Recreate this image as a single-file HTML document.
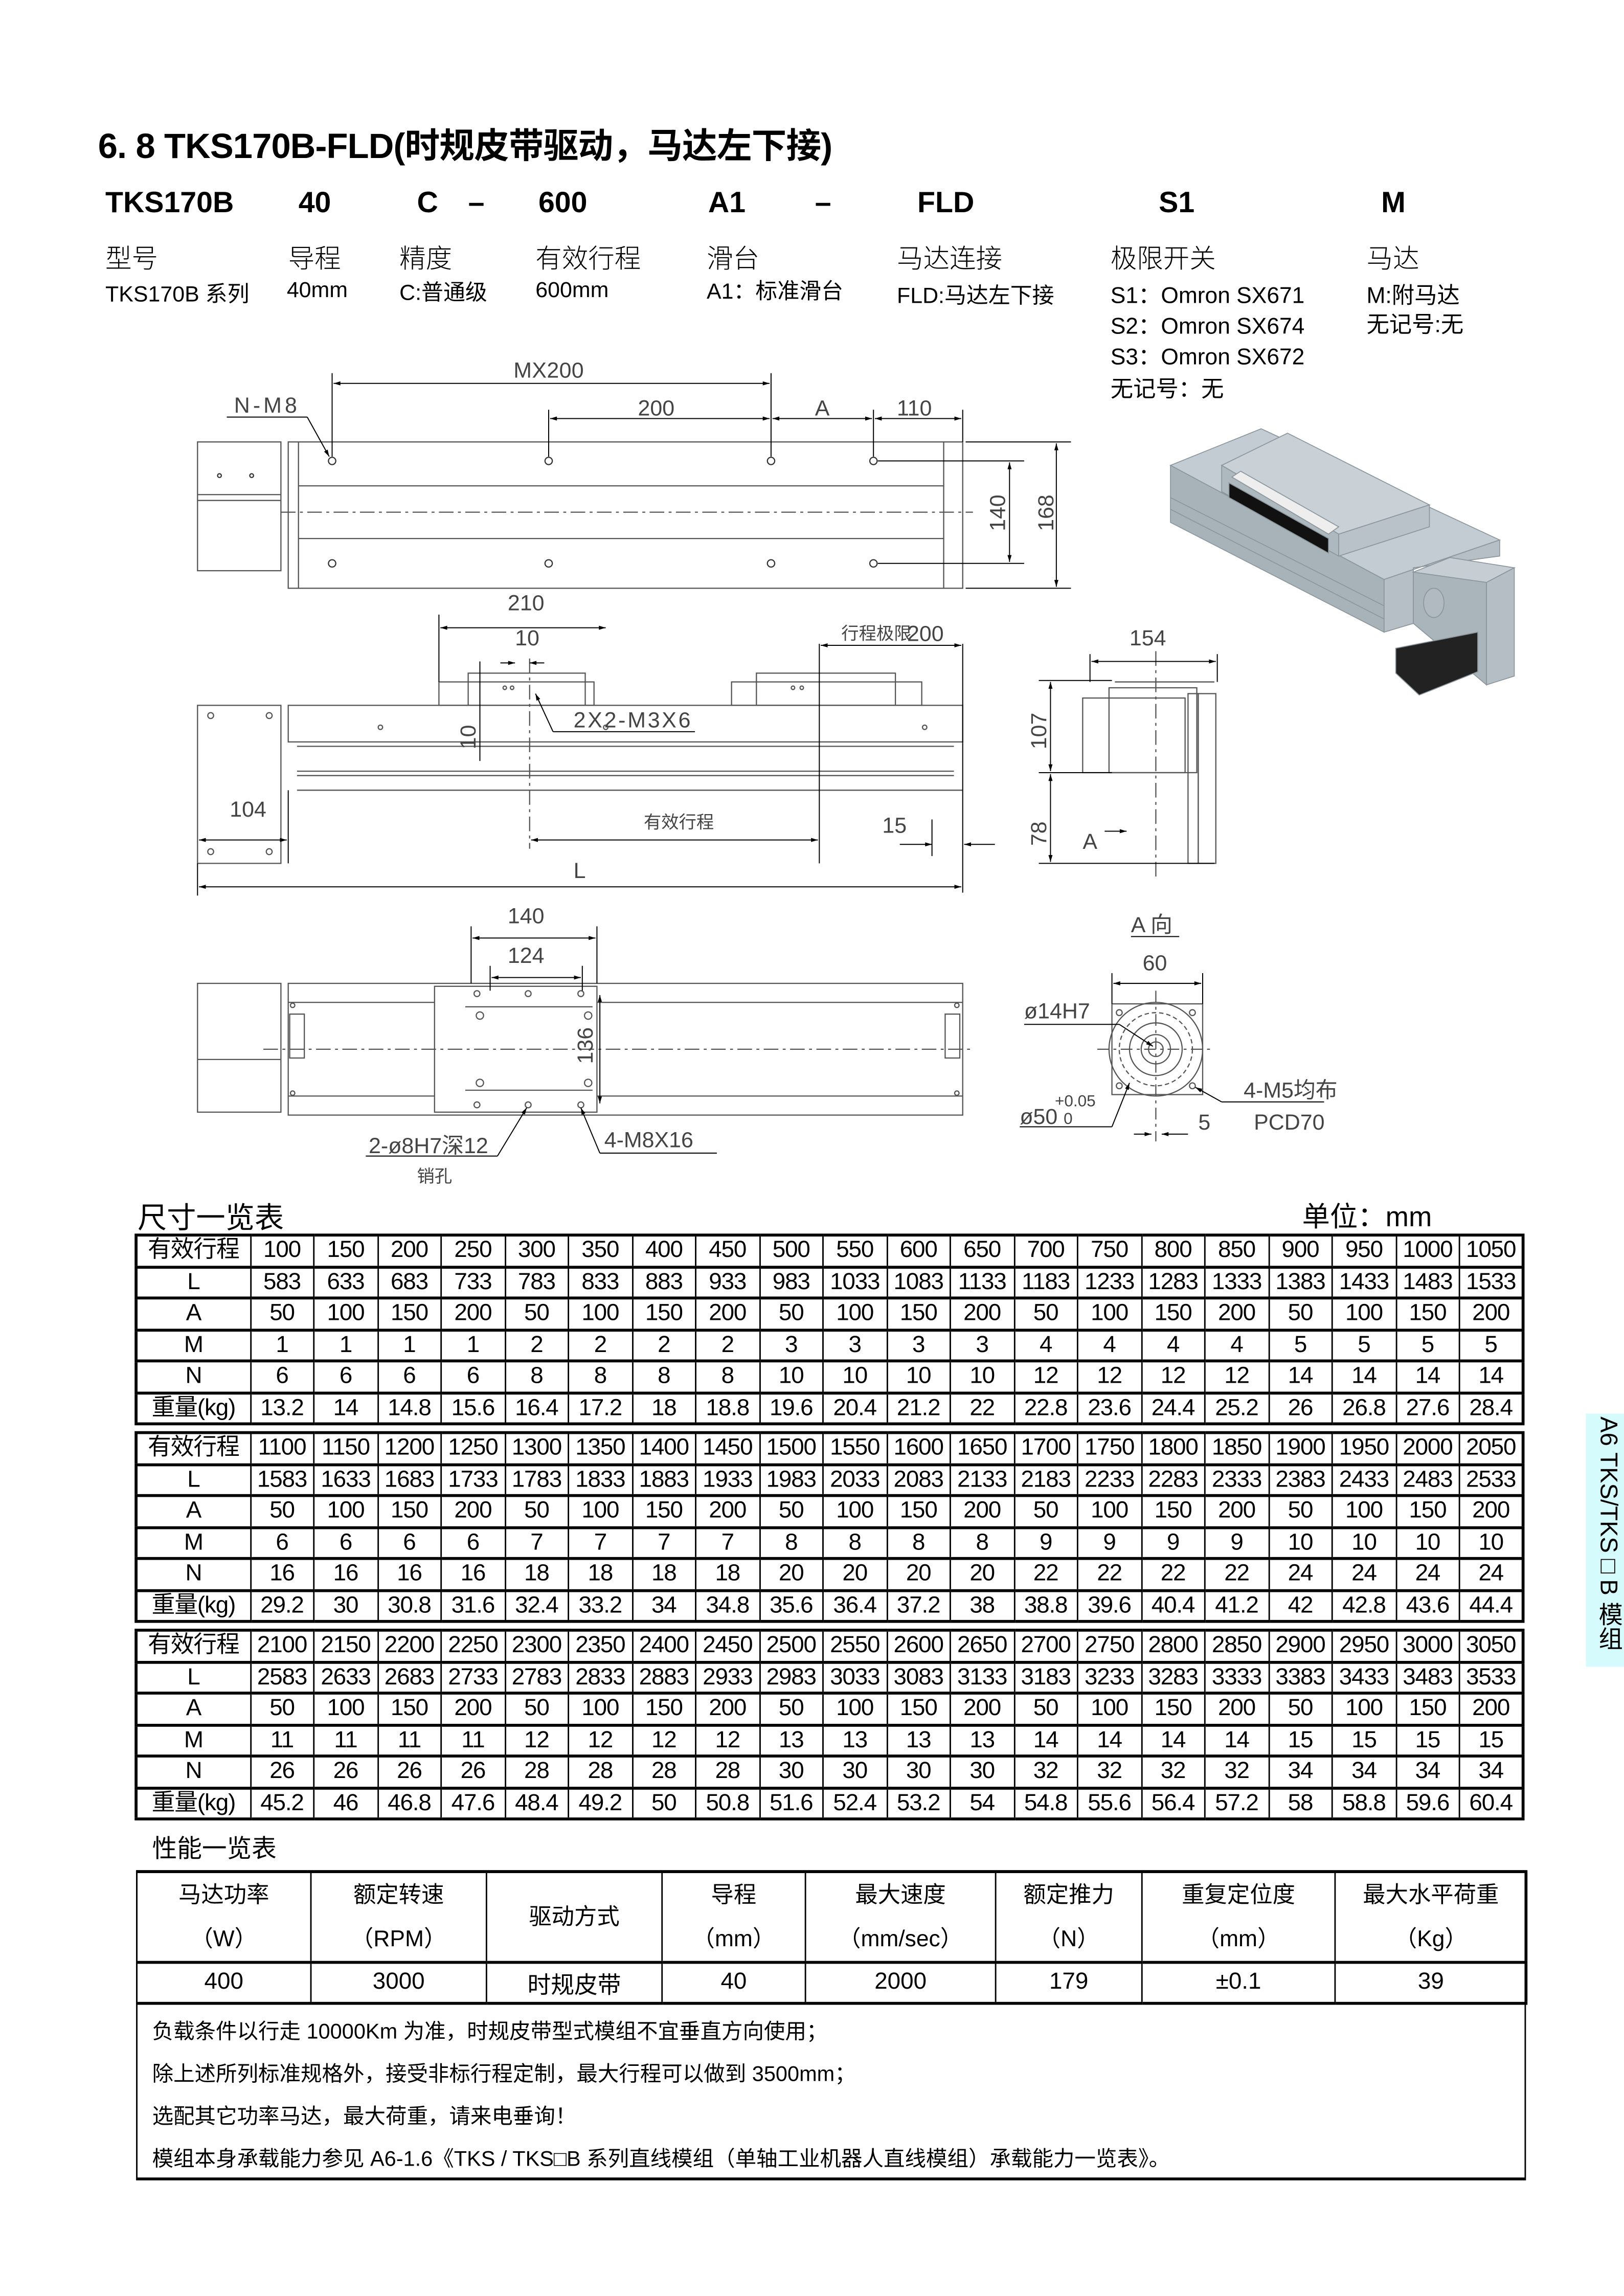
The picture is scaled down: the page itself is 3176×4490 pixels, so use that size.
<!DOCTYPE html>
<html><head><meta charset="utf-8">
<style>
html,body{margin:0;padding:0;background:#fff;}
body{width:3176px;height:4490px;overflow:hidden;position:relative;}
#pg{position:absolute;left:0;top:0;width:1110px;height:1569px;transform:scale(2.8613,2.8617);transform-origin:0 0;font-family:"Liberation Sans","Noto Sans CJK SC",sans-serif;color:#000;}
.a{position:absolute;white-space:nowrap;}
.cj{font-family:"Liberation Sans","Noto Sans CJK SC",sans-serif;}
table{position:absolute;border-collapse:collapse;table-layout:fixed;}
.dt td{border-left:1px solid #000;border-right:1px solid #000;border-top:2px solid #000;border-bottom:2px solid #000;text-align:center;font-size:16px;height:19.5px;padding:0;line-height:19px;overflow:hidden;white-space:nowrap;letter-spacing:-0.4px;}
.dt{border:2px solid #000;}
.pt td{border:1px solid #000;text-align:center;font-size:16px;padding:0;}
.pt tr.h td{border-bottom:2px solid #000;line-height:15px;font-size:15.5px;}
</style></head><body><div id="pg">

<div class="a" style="left:67px;top:80px;font-size:24px;font-weight:bold;letter-spacing:-0.3px;">6. 8 TKS170B-FLD(时规皮带驱动，马达左下接)</div>

<div class="a" style="left:72px;top:128px;font-size:20px;font-weight:bold;">TKS170B</div>
<div class="a" style="left:204px;top:128px;font-size:20px;font-weight:bold;">40</div>
<div class="a" style="left:285px;top:128px;font-size:20px;font-weight:bold;">C</div>
<div class="a" style="left:320px;top:128px;font-size:20px;font-weight:bold;">–</div>
<div class="a" style="left:368px;top:128px;font-size:20px;font-weight:bold;">600</div>
<div class="a" style="left:484px;top:128px;font-size:20px;font-weight:bold;">A1</div>
<div class="a" style="left:557px;top:128px;font-size:20px;font-weight:bold;">–</div>
<div class="a" style="left:627px;top:128px;font-size:20px;font-weight:bold;">FLD</div>
<div class="a" style="left:792px;top:128px;font-size:20px;font-weight:bold;">S1</div>
<div class="a" style="left:944px;top:128px;font-size:20px;font-weight:bold;">M</div>

<div class="a cj" style="left:72px;top:163px;font-size:18px;font-weight:300;">型号</div>
<div class="a cj" style="left:197px;top:163px;font-size:18px;font-weight:300;">导程</div>
<div class="a cj" style="left:273px;top:163px;font-size:18px;font-weight:300;">精度</div>
<div class="a cj" style="left:366px;top:163px;font-size:18px;font-weight:300;">有效行程</div>
<div class="a cj" style="left:483px;top:163px;font-size:18px;font-weight:300;">滑台</div>
<div class="a cj" style="left:613px;top:163px;font-size:18px;font-weight:300;">马达连接</div>
<div class="a cj" style="left:759px;top:163px;font-size:18px;font-weight:300;">极限开关</div>
<div class="a cj" style="left:934px;top:163px;font-size:18px;font-weight:300;">马达</div>

<div class="a cj" style="left:72px;top:190px;font-size:15px;">TKS170B 系列</div>
<div class="a cj" style="left:196px;top:190px;font-size:15px;">40mm</div>
<div class="a cj" style="left:273px;top:189px;font-size:15px;">C:普通级</div>
<div class="a cj" style="left:366px;top:190px;font-size:15px;">600mm</div>
<div class="a cj" style="left:483px;top:188px;font-size:15px;">A1：标准滑台</div>
<div class="a cj" style="left:613px;top:191px;font-size:15px;">FLD:马达左下接</div>
<div class="a cj" style="left:759px;top:190px;font-size:15.5px;">S1：Omron SX671</div>
<div class="a cj" style="left:759px;top:211px;font-size:15.5px;">S2：Omron SX674</div>
<div class="a cj" style="left:759px;top:232px;font-size:15.5px;">S3：Omron SX672</div>
<div class="a cj" style="left:759px;top:254px;font-size:15.5px;">无记号：无</div>
<div class="a cj" style="left:934px;top:190px;font-size:15.5px;">M:附马达</div>
<div class="a cj" style="left:934px;top:210px;font-size:15.5px;">无记号:无</div>

<svg class="a" style="left:0;top:0" width="1110" height="820" viewBox="0 0 1110 820">
<defs><marker id="ar" viewBox="0 0 10 6" refX="10" refY="3" markerWidth="8" markerHeight="4" orient="auto-start-reverse"><path d="M0,0L10,3L0,6z" fill="#000"/></marker></defs>
<g fill="none" stroke="#555" stroke-width="0.8">
<rect x="135" y="302" width="57" height="88"/>
<line x1="135" y1="342" x2="192" y2="342"/><line x1="135" y1="338" x2="192" y2="338"/>
<rect x="197" y="302" width="461" height="100"/>
<line x1="204" y1="302" x2="204" y2="402"/><line x1="645" y1="302" x2="645" y2="402"/>
<line x1="204" y1="332" x2="645" y2="332"/><line x1="204" y1="368" x2="645" y2="368"/>
<line x1="192" y1="350" x2="665" y2="350" stroke-dasharray="10 3 2 3"/>
</g>
<g fill="none" stroke="#333" stroke-width="0.8">
<circle cx="227" cy="315" r="2.5"/><circle cx="375" cy="315" r="2.5"/><circle cx="527" cy="315" r="2.5"/><circle cx="597" cy="315" r="2.5"/>
<circle cx="227" cy="385" r="2.5"/><circle cx="375" cy="385" r="2.5"/><circle cx="527" cy="385" r="2.5"/><circle cx="597" cy="385" r="2.5"/>
<circle cx="150" cy="325" r="1.3"/><circle cx="172" cy="325" r="1.3"/>
</g>
<g stroke="#000" stroke-width="0.7" fill="none">
<line x1="227" y1="255" x2="227" y2="312"/><line x1="527" y1="255" x2="527" y2="312"/><line x1="375" y1="280" x2="375" y2="312"/><line x1="597" y1="280" x2="597" y2="312"/><line x1="658" y1="280" x2="658" y2="302"/>
<line x1="228" y1="262" x2="526" y2="262" marker-start="url(#ar)" marker-end="url(#ar)"/>
<line x1="376" y1="286" x2="526" y2="286" marker-start="url(#ar)" marker-end="url(#ar)"/>
<line x1="528" y1="286" x2="596" y2="286" marker-start="url(#ar)" marker-end="url(#ar)"/>
<line x1="598" y1="286" x2="657" y2="286" marker-start="url(#ar)" marker-end="url(#ar)"/>
<line x1="155" y1="285" x2="210" y2="285"/><line x1="210" y1="285" x2="225" y2="312" marker-end="url(#ar)"/>
<line x1="600" y1="315" x2="700" y2="315"/><line x1="600" y1="385" x2="700" y2="385"/>
<line x1="660" y1="302" x2="732" y2="302"/><line x1="660" y1="402" x2="732" y2="402"/>
<line x1="690" y1="316" x2="690" y2="384" marker-start="url(#ar)" marker-end="url(#ar)"/>
<line x1="722" y1="303" x2="722" y2="401" marker-start="url(#ar)" marker-end="url(#ar)"/>
</g>
<g font-family="Liberation Sans" font-size="15" fill="#444" font-weight="300">
<text x="351" y="258" textLength="48">MX200</text>
<text x="436" y="284">200</text><text x="557" y="284">A</text><text x="613" y="284">110</text>
<text x="160" y="282" textLength="43">N-M8</text>
<text transform="translate(687,363) rotate(-90)">140</text>
<text transform="translate(720,363) rotate(-90)">168</text>
</g>

<g fill="none" stroke="#555" stroke-width="0.8">
<rect x="135" y="482" width="57" height="108"/>
<rect x="197" y="482" width="461" height="25"/>
<line x1="203" y1="510" x2="652" y2="510"/>
<line x1="203" y1="527" x2="652" y2="527"/><line x1="203" y1="530" x2="652" y2="530"/>
<line x1="203" y1="540" x2="658" y2="540"/>
<rect x="300" y="466" width="106" height="16"/><rect x="320" y="460" width="80" height="22"/>
<rect x="500" y="466" width="130" height="16"/><rect x="517" y="460" width="95" height="22"/>
<circle cx="144" cy="489" r="2"/><circle cx="184" cy="489" r="2"/><circle cx="144" cy="582" r="2"/><circle cx="184" cy="582" r="2"/>
<circle cx="260" cy="497" r="1.5"/><circle cx="414" cy="497" r="1.5"/><circle cx="632" cy="497" r="1.5"/>
<circle cx="345" cy="470" r="1.2"/><circle cx="350" cy="470" r="1.2"/><circle cx="542" cy="470" r="1.2"/><circle cx="548" cy="470" r="1.2"/>
<line x1="362" y1="450" x2="362" y2="580" stroke-dasharray="10 3 2 3"/>
</g>
<g stroke="#000" stroke-width="0.7" fill="none">
<line x1="300" y1="420" x2="300" y2="466"/><line x1="301" y1="429" x2="414" y2="429" marker-start="url(#ar)" marker-end="url(#ar)"/>
<line x1="342" y1="453" x2="352" y2="453" marker-end="url(#ar)"/><line x1="372" y1="453" x2="362" y2="453" marker-end="url(#ar)"/>
<line x1="328" y1="452" x2="328" y2="520"/>
<line x1="366" y1="474" x2="378" y2="500" marker-start="url(#ar)"/><line x1="378" y1="500" x2="475" y2="500"/>
<line x1="560" y1="440" x2="560" y2="590"/><line x1="561" y1="441" x2="657" y2="441" marker-start="url(#ar)" marker-end="url(#ar)"/><line x1="658" y1="440" x2="658" y2="610"/>
<line x1="136" y1="574" x2="196" y2="574" marker-start="url(#ar)" marker-end="url(#ar)"/><line x1="197" y1="540" x2="197" y2="590"/>
<line x1="363" y1="574" x2="559" y2="574" marker-start="url(#ar)" marker-end="url(#ar)"/>
<line x1="615" y1="577" x2="637" y2="577" marker-end="url(#ar)"/><line x1="680" y1="577" x2="659" y2="577" marker-end="url(#ar)"/><line x1="637" y1="560" x2="637" y2="585"/>
<line x1="135" y1="590" x2="135" y2="612"/>
<line x1="136" y1="606" x2="657" y2="606" marker-start="url(#ar)" marker-end="url(#ar)"/>
</g>
<g font-family="Liberation Sans" font-size="15" fill="#444">
<text x="347" y="417">210</text><text x="352" y="441">10</text>
<text x="575" y="437" font-size="12" class="cj">行程极限</text><text x="620" y="438">200</text>
<text x="392" y="497" textLength="80">2X2-M3X6</text>
<text transform="translate(325,512) rotate(-90)">10</text>
<text x="157" y="558">104</text><text x="440" y="566" font-size="12">有效行程</text>
<text x="603" y="569">15</text><text x="392" y="600">L</text>
</g>

<g fill="none" stroke="#555" stroke-width="0.8">
<rect x="740" y="477" width="70" height="51"/><rect x="758" y="470" width="60" height="58"/>
<rect x="819" y="474" width="12" height="116"/><rect x="812" y="474" width="7" height="116"/>
<line x1="790" y1="445" x2="790" y2="600" stroke-dasharray="10 3 2 3"/>
<line x1="762" y1="466" x2="830" y2="466"/>
</g>
<g stroke="#000" stroke-width="0.7" fill="none">
<line x1="745" y1="447" x2="745" y2="466"/><line x1="832" y1="447" x2="832" y2="466"/>
<line x1="746" y1="452" x2="831" y2="452" marker-start="url(#ar)" marker-end="url(#ar)"/>
<line x1="710" y1="465" x2="760" y2="465"/><line x1="710" y1="528" x2="760" y2="528"/><line x1="710" y1="590" x2="830" y2="590"/>
<line x1="718" y1="466" x2="718" y2="527" marker-start="url(#ar)" marker-end="url(#ar)"/>
<line x1="718" y1="529" x2="718" y2="589" marker-start="url(#ar)" marker-end="url(#ar)"/>
<line x1="755" y1="568" x2="770" y2="568" marker-end="url(#ar)"/>
</g>
<g font-family="Liberation Sans" font-size="15" fill="#444">
<text x="772" y="441">154</text>
<text transform="translate(715,512) rotate(-90)">107</text>
<text transform="translate(715,578) rotate(-90)">78</text>
<text x="740" y="580">A</text>
</g>

<g fill="none" stroke="#555" stroke-width="0.8">
<rect x="135" y="672" width="57" height="88"/><line x1="135" y1="724" x2="192" y2="724"/>
<rect x="197" y="672" width="461" height="90"/>
<rect x="297" y="674" width="111" height="86"/>
<line x1="197" y1="685" x2="297" y2="685"/><line x1="408" y1="685" x2="658" y2="685"/>
<line x1="197" y1="749" x2="297" y2="749"/><line x1="408" y1="749" x2="658" y2="749"/>
<rect x="198" y="693" width="10" height="30"/><rect x="646" y="693" width="10" height="30"/>
<line x1="318" y1="688" x2="405" y2="688"/><line x1="318" y1="745" x2="405" y2="745"/>
<line x1="180" y1="717" x2="665" y2="717" stroke-dasharray="10 3 2 3"/>
<circle cx="326" cy="679" r="2"/><circle cx="361" cy="679" r="2"/><circle cx="397" cy="679" r="2"/>
<circle cx="326" cy="755" r="2"/><circle cx="361" cy="755" r="2"/><circle cx="397" cy="755" r="2"/>
<circle cx="328" cy="694" r="2.5"/><circle cx="402" cy="694" r="2.5"/><circle cx="328" cy="740" r="2.5"/><circle cx="402" cy="740" r="2.5"/>
<circle cx="200" cy="687" r="1.5"/><circle cx="654" cy="687" r="1.5"/><circle cx="200" cy="747" r="1.5"/><circle cx="654" cy="747" r="1.5"/>
</g>
<g stroke="#000" stroke-width="0.7" fill="none">
<line x1="322" y1="633" x2="322" y2="672"/><line x1="408" y1="633" x2="408" y2="672"/>
<line x1="323" y1="641" x2="407" y2="641" marker-start="url(#ar)" marker-end="url(#ar)"/>
<line x1="335" y1="660" x2="335" y2="677"/><line x1="398" y1="660" x2="398" y2="677"/>
<line x1="336" y1="668" x2="397" y2="668" marker-start="url(#ar)" marker-end="url(#ar)"/>
<line x1="410" y1="680" x2="410" y2="754" marker-start="url(#ar)" marker-end="url(#ar)"/>
<line x1="250" y1="790" x2="340" y2="790"/><line x1="340" y1="790" x2="360" y2="757" marker-end="url(#ar)"/>
<line x1="490" y1="788" x2="410" y2="788"/><line x1="410" y1="788" x2="397" y2="757" marker-end="url(#ar)"/>
</g>
<g font-family="Liberation Sans" font-size="15" fill="#444">
<text x="347" y="631">140</text><text x="347" y="658">124</text>
<text transform="translate(405,727) rotate(-90)">136</text>
<text x="252" y="788" class="cj">2-ø8H7深12</text><text x="285" y="808" font-size="12" class="cj">销孔</text>
<text x="413" y="784">4-M8X16</text>
</g>

<g fill="none" stroke="#555" stroke-width="0.8">
<rect x="760" y="686" width="62" height="62"/>
<circle cx="790" cy="717" r="32"/><circle cx="790" cy="717" r="25" stroke-dasharray="3 2"/><circle cx="790" cy="717" r="18"/><circle cx="790" cy="717" r="10"/><circle cx="790" cy="717" r="5"/>
<circle cx="765" cy="692" r="2"/><circle cx="815" cy="692" r="2"/><circle cx="765" cy="742" r="2"/><circle cx="815" cy="742" r="2"/>
<line x1="750" y1="717" x2="830" y2="717" stroke-dasharray="8 3 2 3"/><line x1="790" y1="677" x2="790" y2="780" stroke-dasharray="8 3 2 3"/>
</g>
<g stroke="#000" stroke-width="0.7" fill="none">
<line x1="773" y1="640" x2="806" y2="640"/>
<line x1="760" y1="665" x2="760" y2="686"/><line x1="822" y1="665" x2="822" y2="686"/>
<line x1="761" y1="672" x2="821" y2="672" marker-start="url(#ar)" marker-end="url(#ar)"/>
<line x1="700" y1="700" x2="765" y2="700"/><line x1="765" y1="700" x2="788" y2="715" marker-end="url(#ar)"/>
<line x1="697" y1="770" x2="760" y2="770"/><line x1="760" y1="770" x2="772" y2="740" marker-end="url(#ar)"/>
<line x1="905" y1="753" x2="835" y2="753"/><line x1="835" y1="753" x2="817" y2="743" marker-end="url(#ar)"/>
<line x1="775" y1="775" x2="787" y2="775" marker-end="url(#ar)"/><line x1="812" y1="775" x2="794" y2="775" marker-end="url(#ar)"/>
</g>
<g font-family="Liberation Sans" font-size="15" fill="#444">
<text x="773" y="637" class="cj">A 向</text><text x="781" y="663">60</text>
<text x="700" y="696">ø14H7</text>
<text x="697" y="768">ø50</text><text x="721" y="756" font-size="11">+0.05</text><text x="727" y="768" font-size="11">0</text>
<text x="850" y="750" class="cj">4-M5均布</text><text x="857" y="772">PCD70</text>
<text x="819" y="772">5</text>
</g>

<g stroke="#8a959c" stroke-width="0.6">
<polygon points="800,318 862,293 1025,369 946,396" fill="#c3ccd2"/>
<polygon points="800,318 946,396 946,432 800,357" fill="#a8b2b9"/>
<polygon points="946,396 1025,369 1025,380 966,388 966,426 946,432" fill="#b6bfc6"/>
<polygon points="835,318 880,296 977,345 915,365" fill="#c9d1d7"/>
<polygon points="835,318 915,365 915,380 835,336" fill="#aeb8bf"/>
<polygon points="915,365 977,345 977,360 915,380" fill="#b9c2c8"/>
<polygon points="840,330 908,368 908,378 840,340" fill="#111"/>
<polygon points="848,322 915,360 908,365 842,326" fill="#eee"/>
<polygon points="966,391 991,381 1035,388 1016,398" fill="#c6ced4"/>
<polygon points="966,391 1016,398 1016,468 966,426" fill="#aab4bb"/>
<polygon points="1016,398 1035,388 1035,462 1016,468" fill="#b5bec5"/>
<polygon points="954,443 1010,432 1010,459 970,475 954,460" fill="#222"/>
<line x1="800" y1="340" x2="946" y2="414"/><line x1="800" y1="348" x2="946" y2="423"/>
<ellipse cx="980" cy="412" rx="7" ry="10" fill="#b0bac0"/>
</g>
</svg>

<div class="a cj" style="left:94px;top:816px;font-size:20px;">尺寸一览表</div>
<div class="a cj" style="left:890px;top:817px;font-size:19px;">单位：mm</div>

<table class="dt" style="left:92px;top:843px;width:950px;">
<colgroup><col style="width:78px"><col span="20"></colgroup>
<tr><td class="cj">有效行程</td><td>100</td><td>150</td><td>200</td><td>250</td><td>300</td><td>350</td><td>400</td><td>450</td><td>500</td><td>550</td><td>600</td><td>650</td><td>700</td><td>750</td><td>800</td><td>850</td><td>900</td><td>950</td><td>1000</td><td>1050</td></tr>
<tr><td>L</td><td>583</td><td>633</td><td>683</td><td>733</td><td>783</td><td>833</td><td>883</td><td>933</td><td>983</td><td>1033</td><td>1083</td><td>1133</td><td>1183</td><td>1233</td><td>1283</td><td>1333</td><td>1383</td><td>1433</td><td>1483</td><td>1533</td></tr>
<tr><td>A</td><td>50</td><td>100</td><td>150</td><td>200</td><td>50</td><td>100</td><td>150</td><td>200</td><td>50</td><td>100</td><td>150</td><td>200</td><td>50</td><td>100</td><td>150</td><td>200</td><td>50</td><td>100</td><td>150</td><td>200</td></tr>
<tr><td>M</td><td>1</td><td>1</td><td>1</td><td>1</td><td>2</td><td>2</td><td>2</td><td>2</td><td>3</td><td>3</td><td>3</td><td>3</td><td>4</td><td>4</td><td>4</td><td>4</td><td>5</td><td>5</td><td>5</td><td>5</td></tr>
<tr><td>N</td><td>6</td><td>6</td><td>6</td><td>6</td><td>8</td><td>8</td><td>8</td><td>8</td><td>10</td><td>10</td><td>10</td><td>10</td><td>12</td><td>12</td><td>12</td><td>12</td><td>14</td><td>14</td><td>14</td><td>14</td></tr>
<tr><td class="cj">重量(kg)</td><td>13.2</td><td>14</td><td>14.8</td><td>15.6</td><td>16.4</td><td>17.2</td><td>18</td><td>18.8</td><td>19.6</td><td>20.4</td><td>21.2</td><td>22</td><td>22.8</td><td>23.6</td><td>24.4</td><td>25.2</td><td>26</td><td>26.8</td><td>27.6</td><td>28.4</td></tr>
</table>

<table class="dt" style="left:92px;top:978px;width:950px;">
<colgroup><col style="width:78px"><col span="20"></colgroup>
<tr><td class="cj">有效行程</td><td>1100</td><td>1150</td><td>1200</td><td>1250</td><td>1300</td><td>1350</td><td>1400</td><td>1450</td><td>1500</td><td>1550</td><td>1600</td><td>1650</td><td>1700</td><td>1750</td><td>1800</td><td>1850</td><td>1900</td><td>1950</td><td>2000</td><td>2050</td></tr>
<tr><td>L</td><td>1583</td><td>1633</td><td>1683</td><td>1733</td><td>1783</td><td>1833</td><td>1883</td><td>1933</td><td>1983</td><td>2033</td><td>2083</td><td>2133</td><td>2183</td><td>2233</td><td>2283</td><td>2333</td><td>2383</td><td>2433</td><td>2483</td><td>2533</td></tr>
<tr><td>A</td><td>50</td><td>100</td><td>150</td><td>200</td><td>50</td><td>100</td><td>150</td><td>200</td><td>50</td><td>100</td><td>150</td><td>200</td><td>50</td><td>100</td><td>150</td><td>200</td><td>50</td><td>100</td><td>150</td><td>200</td></tr>
<tr><td>M</td><td>6</td><td>6</td><td>6</td><td>6</td><td>7</td><td>7</td><td>7</td><td>7</td><td>8</td><td>8</td><td>8</td><td>8</td><td>9</td><td>9</td><td>9</td><td>9</td><td>10</td><td>10</td><td>10</td><td>10</td></tr>
<tr><td>N</td><td>16</td><td>16</td><td>16</td><td>16</td><td>18</td><td>18</td><td>18</td><td>18</td><td>20</td><td>20</td><td>20</td><td>20</td><td>22</td><td>22</td><td>22</td><td>22</td><td>24</td><td>24</td><td>24</td><td>24</td></tr>
<tr><td class="cj">重量(kg)</td><td>29.2</td><td>30</td><td>30.8</td><td>31.6</td><td>32.4</td><td>33.2</td><td>34</td><td>34.8</td><td>35.6</td><td>36.4</td><td>37.2</td><td>38</td><td>38.8</td><td>39.6</td><td>40.4</td><td>41.2</td><td>42</td><td>42.8</td><td>43.6</td><td>44.4</td></tr>
</table>

<table class="dt" style="left:92px;top:1113px;width:950px;">
<colgroup><col style="width:78px"><col span="20"></colgroup>
<tr><td class="cj">有效行程</td><td>2100</td><td>2150</td><td>2200</td><td>2250</td><td>2300</td><td>2350</td><td>2400</td><td>2450</td><td>2500</td><td>2550</td><td>2600</td><td>2650</td><td>2700</td><td>2750</td><td>2800</td><td>2850</td><td>2900</td><td>2950</td><td>3000</td><td>3050</td></tr>
<tr><td>L</td><td>2583</td><td>2633</td><td>2683</td><td>2733</td><td>2783</td><td>2833</td><td>2883</td><td>2933</td><td>2983</td><td>3033</td><td>3083</td><td>3133</td><td>3183</td><td>3233</td><td>3283</td><td>3333</td><td>3383</td><td>3433</td><td>3483</td><td>3533</td></tr>
<tr><td>A</td><td>50</td><td>100</td><td>150</td><td>200</td><td>50</td><td>100</td><td>150</td><td>200</td><td>50</td><td>100</td><td>150</td><td>200</td><td>50</td><td>100</td><td>150</td><td>200</td><td>50</td><td>100</td><td>150</td><td>200</td></tr>
<tr><td>M</td><td>11</td><td>11</td><td>11</td><td>11</td><td>12</td><td>12</td><td>12</td><td>12</td><td>13</td><td>13</td><td>13</td><td>13</td><td>14</td><td>14</td><td>14</td><td>14</td><td>15</td><td>15</td><td>15</td><td>15</td></tr>
<tr><td>N</td><td>26</td><td>26</td><td>26</td><td>26</td><td>28</td><td>28</td><td>28</td><td>28</td><td>30</td><td>30</td><td>30</td><td>30</td><td>32</td><td>32</td><td>32</td><td>32</td><td>34</td><td>34</td><td>34</td><td>34</td></tr>
<tr><td class="cj">重量(kg)</td><td>45.2</td><td>46</td><td>46.8</td><td>47.6</td><td>48.4</td><td>49.2</td><td>50</td><td>50.8</td><td>51.6</td><td>52.4</td><td>53.2</td><td>54</td><td>54.8</td><td>55.6</td><td>56.4</td><td>57.2</td><td>58</td><td>58.8</td><td>59.6</td><td>60.4</td></tr>
</table>

<div class="a cj" style="left:104px;top:1249px;font-size:17px;">性能一览表</div>

<div class="a" style="left:93px;top:1278px;width:950px;height:212px;border:1px solid #000;border-top:2px solid #000;border-bottom:2px solid #000;box-sizing:border-box;"></div>
<table class="pt cj" style="left:93px;top:1278px;width:950px;">
<colgroup><col style="width:119px"><col style="width:120px"><col style="width:120px"><col style="width:98px"><col style="width:130px"><col style="width:100px"><col style="width:132px"><col style="width:131px"></colgroup>
<tr class="h" style="height:62px;"><td style="border-top:2px solid #000;">马达功率<br><br>（W）</td><td style="border-top:2px solid #000;">额定转速<br><br>（RPM）</td><td style="border-top:2px solid #000;">驱动方式</td><td style="border-top:2px solid #000;">导程<br><br>（mm）</td><td style="border-top:2px solid #000;">最大速度<br><br>（mm/sec）</td><td style="border-top:2px solid #000;">额定推力<br><br>（N）</td><td style="border-top:2px solid #000;">重复定位度<br><br>（mm）</td><td style="border-top:2px solid #000;">最大水平荷重<br><br>（Kg）</td></tr>
<tr style="height:28px;"><td style="border-bottom:2px solid #000;">400</td><td style="border-bottom:2px solid #000;">3000</td><td style="border-bottom:2px solid #000;">时规皮带</td><td style="border-bottom:2px solid #000;">40</td><td style="border-bottom:2px solid #000;">2000</td><td style="border-bottom:2px solid #000;">179</td><td style="border-bottom:2px solid #000;">±0.1</td><td style="border-bottom:2px solid #000;">39</td></tr>
</table>

<div class="a cj" style="left:104px;top:1377px;font-size:14.5px;">负载条件以行走 10000Km 为准，时规皮带型式模组不宜垂直方向使用；</div>
<div class="a cj" style="left:104px;top:1406px;font-size:14.5px;">除上述所列标准规格外，接受非标行程定制，最大行程可以做到 3500mm；</div>
<div class="a cj" style="left:104px;top:1435px;font-size:14.5px;">选配其它功率马达，最大荷重，请来电垂询！</div>
<div class="a cj" style="left:104px;top:1464px;font-size:14.5px;">模组本身承载能力参见 A6-1.6《TKS / TKS□B 系列直线模组（单轴工业机器人直线模组）承载能力一览表》。</div>

<div class="a" style="left:1084px;top:966px;width:26px;height:173px;background:#d6fbfd;"></div>
<div class="a cj" style="left:1087px;top:968px;font-size:16.5px;writing-mode:vertical-rl;">A6 TKS/TKS□B 模组</div>

</div></body></html>
